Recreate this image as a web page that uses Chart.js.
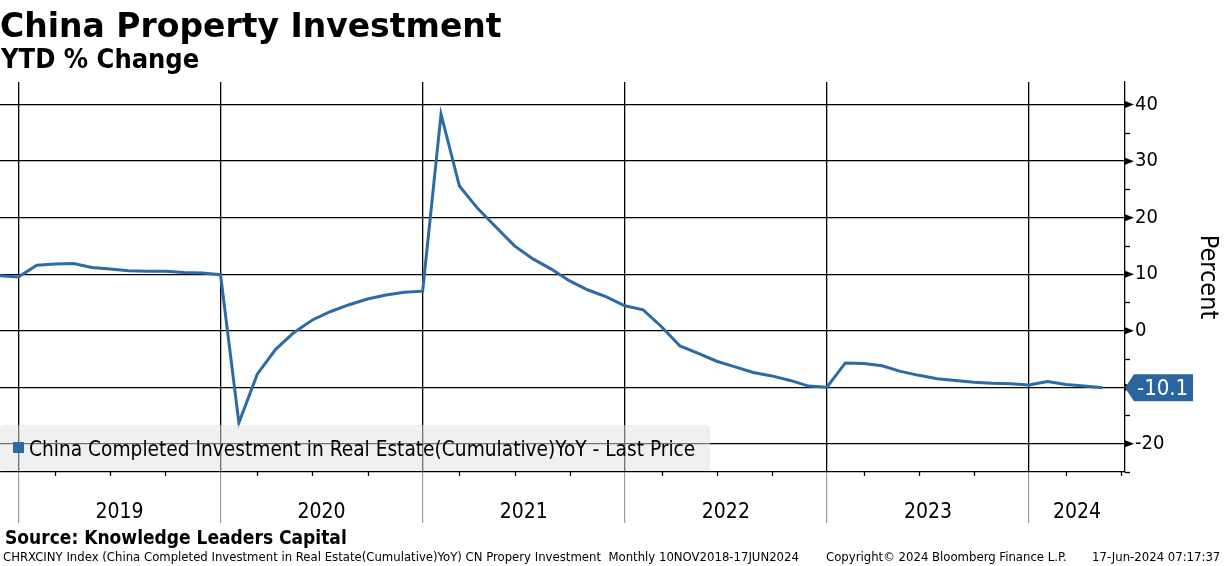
<!DOCTYPE html>
<html>
<head>
<meta charset="utf-8">
<script src="https://cdn.jsdelivr.net/npm/chart.js@4.4.1/dist/chart.umd.min.js"></script>
<style>
  body { margin: 0; background: #fff; }
  #wrap { position: relative; width: 1224px; height: 566px; overflow: hidden;
          font-family: "DejaVu Sans Condensed", "DejaVu Sans", sans-serif; color: #000; }
  #c { position: absolute; left: 0; top: 0; }
  .t { position: absolute; white-space: nowrap; line-height: 1; }
  #legend { position: absolute; left: 0; top: 425px; width: 710px; height: 46px;
            background: rgba(225, 225, 225, 0.5); border-radius: 4px; }
</style>
</head>
<body>
<div id="wrap">
  <canvas id="c" width="1224" height="566"></canvas>
  <div class="t" style="left:0;top:9px;font-size:33px;font-weight:bold;font-family:'DejaVu Sans',sans-serif">China Property Investment</div>
  <div class="t" style="left:1px;top:45px;font-size:27px;font-weight:bold">YTD % Change</div>
  <div id="legend"></div>
  <div class="t" style="left:13px;top:442px;width:11px;height:11px;background:#2d6ba7"></div>
  <div class="t" style="left:29px;top:439px;font-size:20.7px">China Completed Investment in Real Estate(Cumulative)YoY - Last Price</div>
  <div class="t" style="left:5px;top:528px;font-size:19px;font-weight:bold">Source: Knowledge Leaders Capital</div>
  <div class="t" style="left:3px;top:550px;font-size:13px">CHRXCINY Index (China Completed Investment in Real Estate(Cumulative)YoY) CN Propery Investment&nbsp; Monthly 10NOV2018-17JUN2024</div>
  <div class="t" style="left:826px;top:550px;font-size:13px">Copyright© 2024 Bloomberg Finance L.P.</div>
  <div class="t" style="left:1092px;top:550px;font-size:13px">17-Jun-2024 07:17:37</div>
</div>
<script>
// monthly releases (Jan-Feb reported together, so no January point)
const months = [
  "Nov 2018", "Dec 2018",
  "Feb 2019", "Mar 2019", "Apr 2019", "May 2019", "Jun 2019", "Jul 2019", "Aug 2019", "Sep 2019", "Oct 2019", "Nov 2019", "Dec 2019",
  "Feb 2020", "Mar 2020", "Apr 2020", "May 2020", "Jun 2020", "Jul 2020", "Aug 2020", "Sep 2020", "Oct 2020", "Nov 2020", "Dec 2020",
  "Feb 2021", "Mar 2021", "Apr 2021", "May 2021", "Jun 2021", "Jul 2021", "Aug 2021", "Sep 2021", "Oct 2021", "Nov 2021", "Dec 2021",
  "Feb 2022", "Mar 2022", "Apr 2022", "May 2022", "Jun 2022", "Jul 2022", "Aug 2022", "Sep 2022", "Oct 2022", "Nov 2022", "Dec 2022",
  "Feb 2023", "Mar 2023", "Apr 2023", "May 2023", "Jun 2023", "Jul 2023", "Aug 2023", "Sep 2023", "Oct 2023", "Nov 2023", "Dec 2023",
  "Feb 2024", "Mar 2024", "Apr 2024", "May 2024"
];
const values = [
  9.7, 9.5,
  11.6, 11.8, 11.9, 11.2, 10.9, 10.6, 10.5, 10.5, 10.3, 10.2, 9.9,
  -16.3, -7.7, -3.3, -0.3, 1.9, 3.4, 4.6, 5.6, 6.3, 6.8, 7.0,
  38.3, 25.6, 21.6, 18.3, 15.0, 12.7, 10.9, 8.8, 7.2, 6.0, 4.4,
  3.7, 0.7, -2.7, -4.0, -5.4, -6.4, -7.4, -8.0, -8.8, -9.8, -10.0,
  -5.7, -5.8, -6.2, -7.2, -7.9, -8.5, -8.8, -9.1, -9.3, -9.4, -9.6,
  -9.0, -9.5, -9.8, -10.1
];
const years = ["2019", "2020", "2021", "2022", "2023", "2024"];
const yTicks = [-20, -10, 0, 10, 20, 30, 40];
const yMinor = [-25, -15, -5, 5, 15, 25, 35];

const lineColor = "#2d6ba7";
const xMax = 61.22;

// year boundaries sit on the December point
const yearEnds = months.map((m, i) => m.startsWith("Dec") ? i : -1).filter(i => i >= 0);
const yearMids = yearEnds.map((e, i) => (e + (i + 1 < yearEnds.length ? yearEnds[i + 1] : xMax)) / 2);
// quarter ticks (Mar/Jun/Sep), plus Jun 2024 just past the last release
const quarterTicks = months.map((m, i) => /^(Mar|Jun|Sep)/.test(m) ? i : -1).filter(i => i >= 0).concat([months.length]);

Chart.defaults.font.family = '"DejaVu Sans Condensed", "DejaVu Sans", sans-serif';

const extras = {
  id: "extras",
  afterDraw(chart) {
    const { ctx, chartArea, scales } = chart;
    const y = scales.y, x = scales.x;
    ctx.save();
    // arrow heads on major ticks
    ctx.fillStyle = "#000";
    yTicks.forEach(v => {
      const py = y.getPixelForValue(v);
      ctx.beginPath();
      ctx.moveTo(chartArea.right, py - 3.5);
      ctx.lineTo(chartArea.right + 9, py);
      ctx.lineTo(chartArea.right, py + 3.5);
      ctx.closePath();
      ctx.fill();
    });
    // minor ticks
    ctx.strokeStyle = "#000";
    ctx.lineWidth = 1.3;
    yMinor.forEach(v => {
      const py = Math.round(y.getPixelForValue(v)) + 0.5;
      ctx.beginPath();
      ctx.moveTo(chartArea.right, py);
      ctx.lineTo(chartArea.right + 5, py);
      ctx.stroke();
    });
    quarterTicks.forEach(v => {
      const px = Math.round(x.getPixelForValue(v)) + 0.5;
      ctx.beginPath();
      ctx.moveTo(px, chartArea.bottom);
      ctx.lineTo(px, chartArea.bottom + 4);
      ctx.stroke();
    });
    // last price tag
    const last = values[values.length - 1];
    const py = y.getPixelForValue(last);
    const l = chartArea.right, w = 68, h = 27;
    ctx.fillStyle = "#2c64a0";
    ctx.beginPath();
    ctx.moveTo(l, py);
    ctx.lineTo(l + 9, py - h / 2);
    ctx.lineTo(l + w, py - h / 2);
    ctx.lineTo(l + w, py + h / 2);
    ctx.lineTo(l + 9, py + h / 2);
    ctx.closePath();
    ctx.fill();
    ctx.fillStyle = "#fff";
    ctx.font = '22px "DejaVu Sans Condensed", "DejaVu Sans", sans-serif';
    ctx.textAlign = "left";
    ctx.textBaseline = "middle";
    ctx.fillText(last.toFixed(1), l + 12, py + 1);
    ctx.restore();
  }
};

new Chart(document.getElementById("c"), {
  type: "line",
  data: {
    datasets: [{
      data: values.map((v, i) => ({ x: i, y: v })),
      borderColor: lineColor,
      borderWidth: 3,
      pointRadius: 0,
      tension: 0,
      fill: false
    }]
  },
  options: {
    responsive: false,
    animation: false,
    events: [],
    layout: { padding: { top: 82, left: 0, right: 0, bottom: 0 } },
    plugins: { legend: { display: false }, tooltip: { enabled: false } },
    scales: {
      x: {
        type: "linear", position: "bottom", min: 0, max: xMax,
        afterBuildTicks: s => { s.ticks = yearEnds.map(v => ({ value: v })); },
        afterFit: s => { s.height = 0; },
        ticks: { display: false },
        grid: { color: "#000", lineWidth: 1.3, drawTicks: true, tickLength: 51, tickColor: "#8c8c8c", tickWidth: 1 },
        border: { display: true, color: "#000", width: 1.3 }
      },
      x2: {
        type: "linear", position: "bottom", min: 0, max: xMax,
        afterBuildTicks: s => { s.ticks = yearMids.map(v => ({ value: v })); },
        afterFit: s => { s.height = 94; },
        ticks: { callback: (v, i) => years[i], font: { size: 21 }, color: "#000", padding: 28, autoSkip: false, maxRotation: 0 },
        grid: { display: false, drawTicks: false },
        border: { display: false }
      },
      y: {
        position: "right", min: -25, max: 44,
        afterBuildTicks: s => { s.ticks = yTicks.map(v => ({ value: v })); },
        afterFit: s => { s.width = 99; },
        ticks: { font: { size: 20 }, color: "#000", padding: 10 },
        grid: { color: "#000", lineWidth: 1.3, drawTicks: false },
        border: { display: true, color: "#000", width: 1.3 },
        title: { display: true, text: "Percent", font: { size: 25 }, color: "#000", padding: 2 }
      }
    }
  },
  plugins: [extras]
});
</script>
</body>
</html>
